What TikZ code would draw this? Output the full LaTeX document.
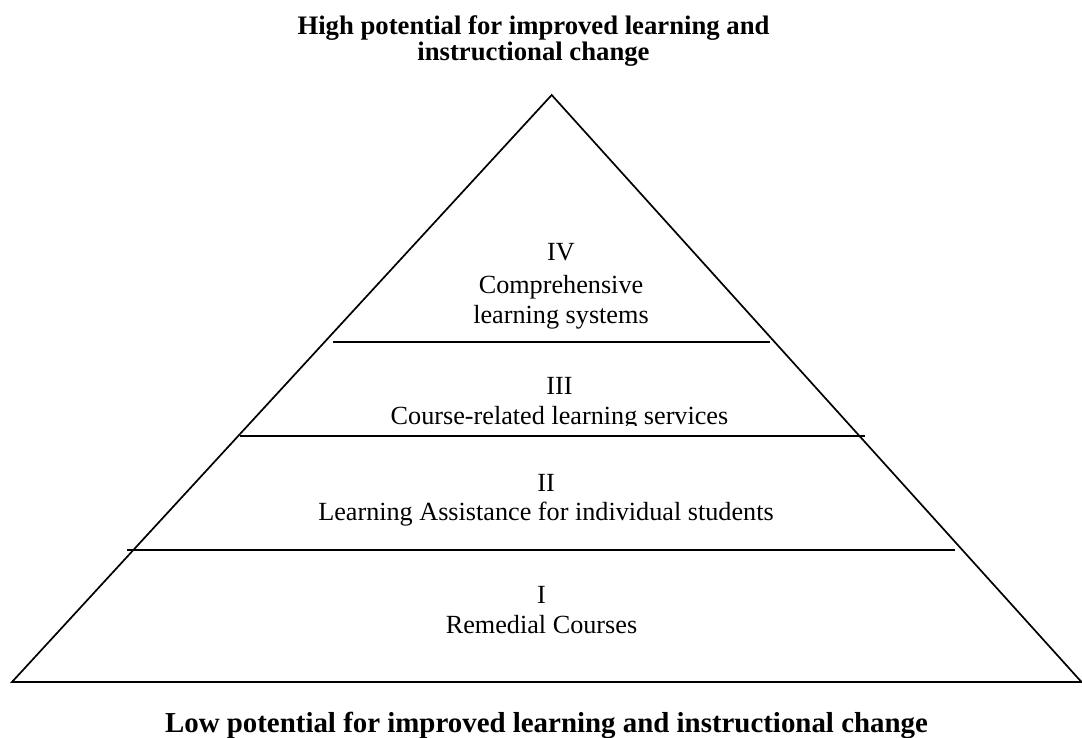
\documentclass[tikz,border=0pt]{standalone}
\usepackage{fontspec}
\setmainfont{Liberation Serif}
\begin{document}
\begin{tikzpicture}[x=1pt,y=-1pt,
  edge/.style={line width=1.7pt,line join=miter},
  tier/.style={line width=2pt},
  body/.style={inner sep=0pt,anchor=base,font=\fontsize{26.2}{30}\selectfont},
  heading/.style={inner sep=0pt,anchor=base,font=\fontsize{26.7}{30}\selectfont\bfseries},
  footing/.style={inner sep=0pt,anchor=base,font=\fontsize{28.9}{32}\selectfont\bfseries}]
\useasboundingbox (0,0) rectangle (1082,738);
% headings
\node[heading] (h1) at (533.5,35) {High potential for improved learning and};
\node[heading] (h2) at (533.5,61) {instructional change};
\node[footing] (h3) at (546.5,732) {Low potential for improved learning and instructional change};
% pyramid
\coordinate (apex) at (551.7,95);
\coordinate (bl) at (12,682);
\coordinate (br) at (1081.5,682);
\draw[edge] (bl) -- (apex) -- (br) -- cycle;
% tier lines
\coordinate (l4a) at (333,342); \coordinate (l4b) at (770,342);
\coordinate (l3a) at (240,436); \coordinate (l3b) at (865,436);
\coordinate (l2a) at (127,549.5); \coordinate (l2b) at (955,549.5);
\draw[tier] (l4a) -- (l4b);
\draw[tier] (l3a) -- (l3b);
\draw[tier] (l2a) -- (l2b);
% tier texts
\node[body] (t4a) at (561,261) {IV};
\node[body] (t4b) at (561,293) {Comprehensive};
\node[body] (t4c) at (561,323) {learning systems};
\node[body] (t3a) at (559.5,394) {III};
\begin{scope}
\clip (200,380) rectangle (900,425.5);
\node[body] (t3b) at (559.5,424) {Course-related learning services};
\end{scope}
\node[body] (t2a) at (546,491) {II};
\node[body] (t2b) at (546,520.7) {Learning Assistance for individual students};
\node[body] (t1a) at (541.5,603) {I};
\node[body] (t1b) at (541.5,633) {Remedial Courses};
\end{tikzpicture}
\end{document}
